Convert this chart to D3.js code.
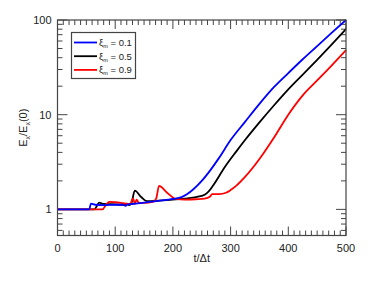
<!DOCTYPE html>
<html><head><meta charset="utf-8">
<script src="https://cdnjs.cloudflare.com/ajax/libs/d3/7.8.5/d3.min.js"></script>
<style>body{margin:0;background:#fff}svg{display:block;font-family:"Liberation Sans",Arial,sans-serif}</style>
</head><body><svg id="c" width="382" height="282"></svg>
<script>
const xTicks = [0, 100, 200, 300, 400, 500];
const yTicks = [1, 10, 100];
const legendLabels = ["0.1", "0.5", "0.9"];
const seriesColors = ["#0000ff", "#000000", "#ff0000"];

const tBlue = [0, 55, 58, 65, 80, 100, 113, 118, 122, 130, 150, 175, 200, 215, 225, 235, 250, 265, 280, 300, 325, 350, 375, 400, 425, 450, 475, 500];
const eBlue = [1, 1, 1.15, 1.12, 1.11, 1.12, 1.12, 1.09, 1.13, 1.14, 1.18, 1.23, 1.29, 1.35, 1.45, 1.62, 2.0, 2.6, 3.5, 5.4, 8.4, 13, 19.5, 27.5, 38.5, 53, 73, 100];

const tBlack = [0, 64, 68, 72, 80, 100, 115, 120, 124, 128, 134, 145, 155, 175, 200, 225, 240, 255, 262, 270, 290, 310, 325, 350, 375, 400, 425, 450, 475, 500];
const eBlack = [1, 1, 1.08, 1.18, 1.14, 1.13, 1.12, 1.15, 1.11, 1.16, 1.58, 1.35, 1.22, 1.24, 1.27, 1.31, 1.35, 1.43, 1.55, 1.8, 2.8, 4.1, 5.4, 8.3, 12.5, 18.5, 26.5, 38, 55, 80];

const tRed = [0, 78, 84, 90, 100, 110, 118, 126, 131, 134, 137, 141, 150, 165, 171, 176, 190, 205, 220, 240, 255, 264, 268, 280, 292, 300, 310, 325, 350, 375, 400, 425, 450, 475, 500];
const eRed = [1, 1, 1.12, 1.2, 1.19, 1.17, 1.15, 1.14, 1.31, 1.14, 1.27, 1.17, 1.17, 1.2, 1.3, 1.77, 1.5, 1.29, 1.27, 1.28, 1.3, 1.36, 1.45, 1.45, 1.5, 1.6, 1.78, 2.2, 3.4, 5.7, 10, 16, 23, 33, 48];

const svg = d3.select("#c");
const L = 57.5, R = 346, T = 20, B = 235.5;
const x = d3.scaleLinear().domain([0, 500]).range([L, R]);
const y = d3.scaleLog().domain([0.53, 100]).range([B, T]);
const axisColor = "#444";

const xMinor = d3.range(0, 501, 10).filter(v => v % 100 !== 0);
const yMinor = [];
[0.1, 1, 10].forEach(p => { for (let k = 2; k <= 9; k++) { const v = k * p; if (v >= 0.53 && v <= 100) yMinor.push(v); } });

const g = svg.append("g");
function drawTicks(list, len) {
  list.forEach(v => {
    g.append("line").attr("x1", x(v)).attr("x2", x(v)).attr("y1", B).attr("y2", B - len).attr("stroke", axisColor);
    g.append("line").attr("x1", x(v)).attr("x2", x(v)).attr("y1", T).attr("y2", T + len).attr("stroke", axisColor);
  });
}
function drawYTicks(list, len) {
  list.forEach(v => {
    g.append("line").attr("y1", y(v)).attr("y2", y(v)).attr("x1", L).attr("x2", L + len).attr("stroke", axisColor);
    g.append("line").attr("y1", y(v)).attr("y2", y(v)).attr("x1", R).attr("x2", R - len).attr("stroke", axisColor);
  });
}
drawTicks(xMinor, 5);
drawTicks(xTicks, 9);
drawYTicks(yMinor, 5);
drawYTicks(yTicks, 10);

const line = d3.line().x(d => x(d[0])).y(d => y(d[1])).curve(d3.curveMonotoneX);
const series = [[tBlack, eBlack, 1], [tRed, eRed, 2], [tBlue, eBlue, 0]];
series.forEach(([ts, es, ci]) => {
  svg.append("path").datum(ts.map((t, i) => [t, es[i]]))
    .attr("d", line).attr("fill", "none").attr("stroke", seriesColors[ci])
    .attr("stroke-width", 1.8).attr("stroke-linejoin", "round");
});

svg.append("rect").attr("x", L).attr("y", T).attr("width", R - L).attr("height", B - T)
  .attr("fill", "none").attr("stroke", axisColor).attr("stroke-width", 1.2);

xTicks.forEach(v => svg.append("text").attr("x", x(v)).attr("y", B + 16).attr("text-anchor", "middle")
  .attr("font-size", 11).attr("fill", "#222").text(v));
yTicks.forEach(v => svg.append("text").attr("x", L - 6).attr("y", y(v) + 4).attr("text-anchor", "end")
  .attr("font-size", 11).attr("fill", "#222").text(v));

svg.append("text").attr("x", (L + R) / 2).attr("y", 262).attr("text-anchor", "middle")
  .attr("font-size", 11).attr("fill", "#222").text("t/Δt");
const yl = svg.append("text").attr("transform", `translate(27,${(T + B) / 2}) rotate(-90)`)
  .attr("text-anchor", "middle").attr("font-size", 11).attr("fill", "#222");
yl.append("tspan").text("E");
yl.append("tspan").attr("font-size", 7).attr("dy", 3).text("x");
yl.append("tspan").attr("dy", -3).text("/E");
yl.append("tspan").attr("font-size", 7).attr("dy", 3).text("x");
yl.append("tspan").attr("dy", -3).text("(0)");

const lg = svg.append("g");
lg.append("rect").attr("x", 71.5).attr("y", 32.5).attr("width", 64).attr("height", 46)
  .attr("fill", "#fff").attr("stroke", axisColor).attr("stroke-width", 1.2);
legendLabels.forEach((lab, i) => {
  const yy = 42.5 + i * 13.7;
  lg.append("line").attr("x1", 74).attr("x2", 97).attr("y1", yy).attr("y2", yy)
    .attr("stroke", seriesColors[i]).attr("stroke-width", 1.8);
  const t = lg.append("text").attr("x", 99).attr("y", yy + 3.5).attr("font-size", 9.5).attr("fill", "#222");
  t.append("tspan").text("ξ");
  t.append("tspan").attr("font-size", 5.5).attr("dy", 2).text("m");
  t.append("tspan").attr("dy", -2).text(" = " + lab);
});
</script></body></html>
